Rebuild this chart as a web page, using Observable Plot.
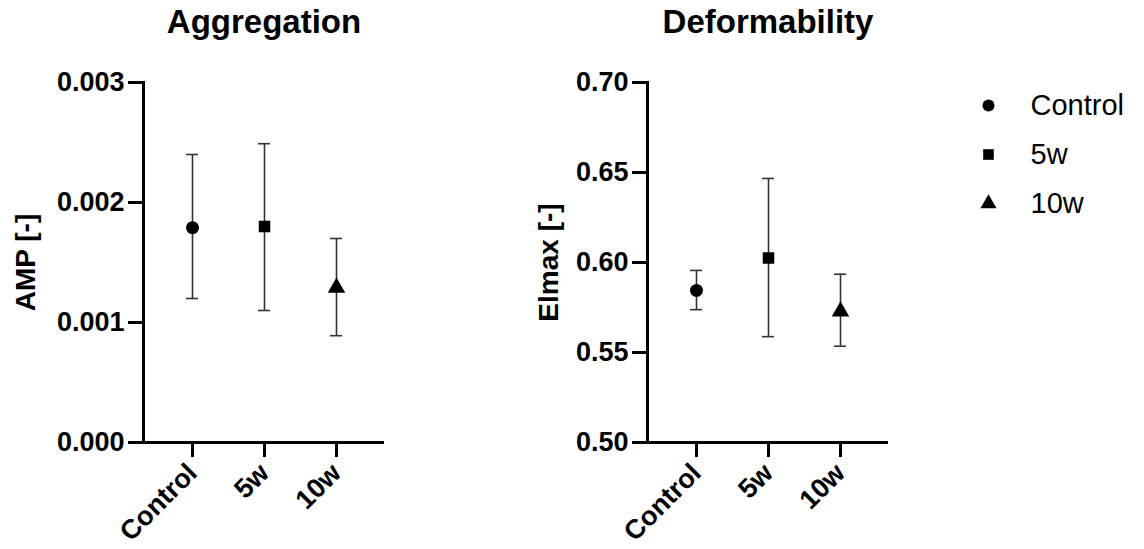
<!DOCTYPE html>
<html>
<head>
<meta charset="utf-8">
<script src="https://cdn.jsdelivr.net/npm/d3@7"></script>
<script src="https://cdn.jsdelivr.net/npm/@observablehq/plot@0.6"></script>
<style>
  html, body { margin: 0; padding: 0; background: #fff; }
  #wrap { position: relative; width: 1144px; height: 549px; font-family: "Liberation Sans", Arial, sans-serif; }
  #wrap > div { position: absolute; top: 0; }
  svg { background: transparent !important; overflow: visible; }
</style>
</head>
<body>
<div id="wrap">
  <div id="p1" style="left:0px"></div>
  <div id="p2" style="left:504px"></div>
  <div id="leg" style="left:960px; top:60px"></div>
</div>
<script>
// ---- data ----
const groups = ["Control", "5w", "10w"];
const symbols = ["circle", "square", "triangle"];

const aggMean = [0.00179, 0.0018, 0.00129];
const aggLow  = [0.0012, 0.0011, 0.00089];
const aggHigh = [0.0024, 0.00249, 0.0017];
const aggTicks = [0, 0.001, 0.002, 0.003];

const defMean = [0.5845, 0.6025, 0.5728];
const defLow  = [0.5738, 0.5588, 0.5535];
const defHigh = [0.5956, 0.6467, 0.5935];
const defTicks = [0.50, 0.55, 0.60, 0.65, 0.70];

const FONT = "Liberation Sans, Arial, sans-serif";

function panel({title, ylabel, mean, low, high, domain, ticks, fmt, labelDx}) {
  const data = groups.map((g, i) => ({group: g, mean: mean[i], low: low[i], high: high[i]}));
  return Plot.plot({
    width: 504,
    height: 549,
    marginLeft: 143,
    marginRight: 120,
    marginTop: 82,
    marginBottom: 107,
    style: {fontFamily: FONT, background: "transparent", color: "#000"},
    x: {type: "band", domain: groups, paddingInner: 0.5, paddingOuter: 0.4167},
    y: {domain, ticks},
    symbol: {domain: groups, range: symbols},
    marks: [
      Plot.ruleX(data, {x: "group", y1: "low", y2: "high", stroke: "#333", strokeWidth: 1.6}),
      Plot.tickY(data, {x: "group", y: "low", stroke: "#333", strokeWidth: 1.6, insetLeft: 12, insetRight: 12}),
      Plot.tickY(data, {x: "group", y: "high", stroke: "#333", strokeWidth: 1.6, insetLeft: 12, insetRight: 12}),
      Plot.dot(data, {x: "group", y: "mean", symbol: "group", fill: "#000", stroke: "none", r: 6.5}),
      Plot.axisY({ticks, tickFormat: fmt, tickSize: 15, tickPadding: 4, strokeWidth: 3,
        fontSize: 27, fontWeight: "bold", label: null}),
      Plot.axisX({tickSize: 15, tickPadding: 11, strokeWidth: 3, tickRotate: -45,
        fontSize: 27, fontWeight: "bold", label: null}),
      Plot.ruleY([domain[0]], {strokeWidth: 3}),
      Plot.frame({anchor: "left", strokeWidth: 3}),
      Plot.text([title], {frameAnchor: "top", dy: -73, fontSize: 33, fontWeight: "bold"}),
      Plot.text([ylabel], {frameAnchor: "left", dx: labelDx, rotate: -90, textAnchor: "middle",
        fontSize: 28, fontWeight: "bold"})
    ]
  });
}

document.getElementById("p1").appendChild(panel({
  title: "Aggregation", ylabel: "AMP [-]",
  mean: aggMean, low: aggLow, high: aggHigh,
  domain: [0, 0.003], ticks: aggTicks, fmt: d3.format(".3f"), labelDx: -117
}));

document.getElementById("p2").appendChild(panel({
  title: "Deformability", ylabel: "Elmax [-]",
  mean: defMean, low: defLow, high: defHigh,
  domain: [0.5, 0.7], ticks: defTicks, fmt: d3.format(".2f"), labelDx: -98
}));

// legend
document.getElementById("leg").appendChild(Plot.plot({
  width: 184,
  height: 190,
  marginLeft: 0, marginRight: 0, marginTop: 45, marginBottom: 47,
  style: {fontFamily: FONT, background: "transparent", color: "#000"},
  y: {type: "point", domain: groups, axis: null, padding: 0},
  symbol: {domain: groups, range: symbols},
  marks: [
    Plot.dot(groups, {y: d => d, symbol: d => d, frameAnchor: "left", dx: 28, r: 6, fill: "#000", stroke: "none"}),
    Plot.text(groups, {y: d => d, text: d => d, frameAnchor: "left", dx: 70, textAnchor: "start", fontSize: 29})
  ]
}));
</script>
</body>
</html>
